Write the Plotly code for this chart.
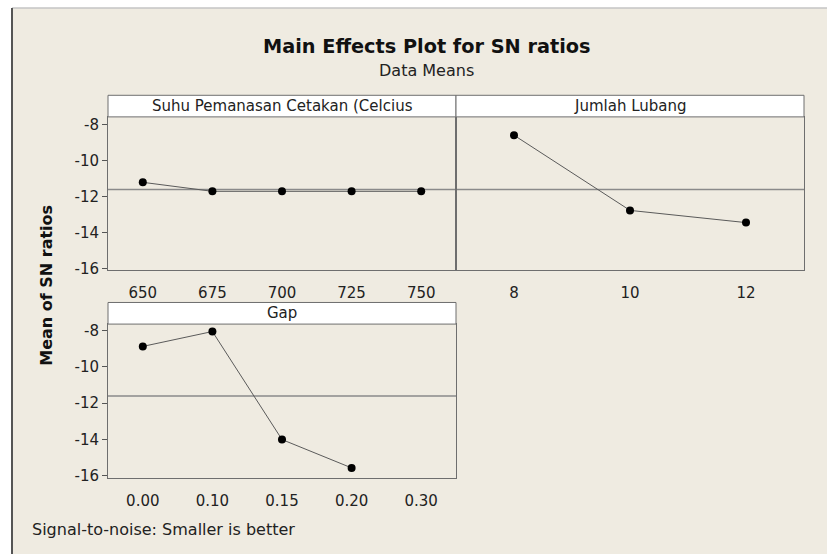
import plotly.graph_objects as go

# ---- data ----
suhu_levels = ["650", "675", "700", "725", "750"]
suhu_sn = [-11.20, -11.70, -11.70, -11.70, -11.70]

lubang_levels = ["8", "10", "12"]
lubang_sn = [-8.58, -12.76, -13.44]

gap_levels = ["0.00", "0.10", "0.15", "0.20", "0.30"]
gap_sn = [-8.87, -8.05, -14.00, -15.56, None]

panel_titles = ["Suhu Pemanasan Cetakan (Celcius", "Jumlah Lubang", "Gap"]
y_ticks = [-16, -14, -12, -10, -8]
y_ticktext = [str(v) for v in y_ticks]

W, H = 827, 554
FONT = "DejaVu Sans"


def fx(x):
    return x / W


def fy(y):
    return 1 - y / H


def mean(vals):
    v = [a for a in vals if a is not None]
    return sum(v) / len(v)


grand_mean = (mean(suhu_sn) + mean(lubang_sn) + mean(gap_sn)) / 3

fig = go.Figure()

line_style = dict(color="#5a5a5a", width=1)
marker_style = dict(color="black", size=8)

fig.add_trace(go.Scatter(x=suhu_levels, y=suhu_sn, mode="lines+markers",
                         line=line_style, marker=marker_style,
                         xaxis="x", yaxis="y", showlegend=False))
fig.add_trace(go.Scatter(x=lubang_levels, y=lubang_sn, mode="lines+markers",
                         line=line_style, marker=marker_style,
                         xaxis="x2", yaxis="y2", showlegend=False))
fig.add_trace(go.Scatter(x=gap_levels, y=gap_sn, mode="lines+markers",
                         line=line_style, marker=marker_style,
                         xaxis="x3", yaxis="y3", showlegend=False,
                         connectgaps=False))

tick_font = dict(family=FONT, size=15, color="#222222")
base = dict(showline=True, mirror=True, linecolor="#6e6e6e", linewidth=1,
            showgrid=False, zeroline=False, tickfont=tick_font)
x_common = dict(ticks="", ticklabelstandoff=9, type="category", categoryorder="array", **base)
y_common = dict(ticks="outside", ticklen=5, tickcolor="#555555",
                tickvals=y_ticks, ticktext=y_ticktext, **base)

top_y = [fy(273), fy(117)]
bot_y = [fy(485), fy(328)]

fig.update_layout(
    width=W, height=H,
    margin=dict(l=0, r=0, t=0, b=0),
    paper_bgcolor="white",
    plot_bgcolor="white",
    font=dict(family=FONT, color="#222222"),
    xaxis=dict(domain=[fx(108), fx(456)], anchor="y", categoryarray=suhu_levels,
               range=[-0.5, len(suhu_levels) - 0.5], **x_common),
    yaxis=dict(domain=top_y, anchor="x", range=[-16.08, -7.56], **y_common),
    xaxis2=dict(domain=[fx(456), fx(804)], anchor="y2", categoryarray=lubang_levels,
                range=[-0.5, len(lubang_levels) - 0.5], **x_common),
    yaxis2=dict(domain=top_y, anchor="x2", range=[-16.08, -7.56], showticklabels=False,
                ticks="", tickvals=y_ticks, **base),
    xaxis3=dict(domain=[fx(108), fx(456)], anchor="y3", categoryarray=gap_levels,
                range=[-0.5, len(gap_levels) - 0.5], **x_common),
    yaxis3=dict(domain=bot_y, anchor="x3", range=[-16.13, -7.64], **y_common),
)

shapes = []
# beige frame
shapes.append(dict(type="rect", xref="paper", yref="paper", x0=fx(12), x1=fx(835),
                   y0=fy(565), y1=fy(6), fillcolor="#EFEBE1", line=dict(width=0), layer="below"))
shapes.append(dict(type="line", xref="paper", yref="paper", x0=fx(12), x1=fx(835),
                   y0=fy(6), y1=fy(6), line=dict(color="#c4c4c4", width=1.5)))
shapes.append(dict(type="line", xref="paper", yref="paper", x0=fx(12), x1=fx(12),
                   y0=fy(565), y1=fy(6), line=dict(color="#555555", width=2)))

# header strips
strips = [(108, 456, 95, 117), (456, 804, 95, 117), (108, 456, 306, 328)]
for (x0, x1, y0, y1) in strips:
    shapes.append(dict(type="rect", xref="paper", yref="paper", x0=fx(x0), x1=fx(x1),
                       y0=fy(y1), y1=fy(y0), fillcolor="white",
                       line=dict(color="#6e6e6e", width=1)))

# grand mean reference lines
for xr, yr in (("x domain", "y"), ("x2 domain", "y2"), ("x3 domain", "y3")):
    shapes.append(dict(type="line", xref=xr, yref=yr, x0=0, x1=1,
                       y0=grand_mean, y1=grand_mean,
                       line=dict(color="#8a8a8a", width=1.5), layer="below"))

fig.update_layout(shapes=shapes)

annotations = []
for (x0, x1, y0, y1), t in zip(strips, panel_titles):
    annotations.append(dict(text=t, xref="paper", yref="paper", x=fx((x0 + x1) / 2),
                            y=fy((y0 + y1) / 2), showarrow=False, xanchor="center",
                            yanchor="middle", font=dict(family=FONT, size=15, color="#222222")))

annotations.append(dict(text="<b>Main Effects Plot for SN ratios</b>", xref="paper", yref="paper",
                        x=fx(427), y=fy(45), showarrow=False, xanchor="center", yanchor="middle",
                        font=dict(family=FONT, size=19.3, color="#111111")))
annotations.append(dict(text="Data Means", xref="paper", yref="paper",
                        x=fx(426), y=fy(70), showarrow=False, xanchor="center", yanchor="middle",
                        font=dict(family=FONT, size=16, color="#222222")))
annotations.append(dict(text="<b>Mean of SN ratios</b>", xref="paper", yref="paper",
                        x=fx(47), y=fy(289), showarrow=False, xanchor="center", yanchor="middle",
                        textangle=-90, font=dict(family=FONT, size=16, color="#111111")))
annotations.append(dict(text="Signal-to-noise: Smaller is better", xref="paper", yref="paper",
                        x=fx(30), y=fy(537), showarrow=False, xanchor="left", yanchor="middle",
                        font=dict(family=FONT, size=16, color="#222222")))

fig.update_layout(annotations=annotations)

post = (
    "document.documentElement.style.margin='0';"
    "document.documentElement.style.overflow='hidden';"
    "document.body.style.margin='0';"
    "document.body.style.overflow='hidden';"
    "var d=document.querySelector('.plotly-graph-div');"
    "d.style.position='fixed';d.style.left='0px';d.style.top='0px';"
)

fig.write_html("out.html", config={"displayModeBar": False}, post_script=post)
